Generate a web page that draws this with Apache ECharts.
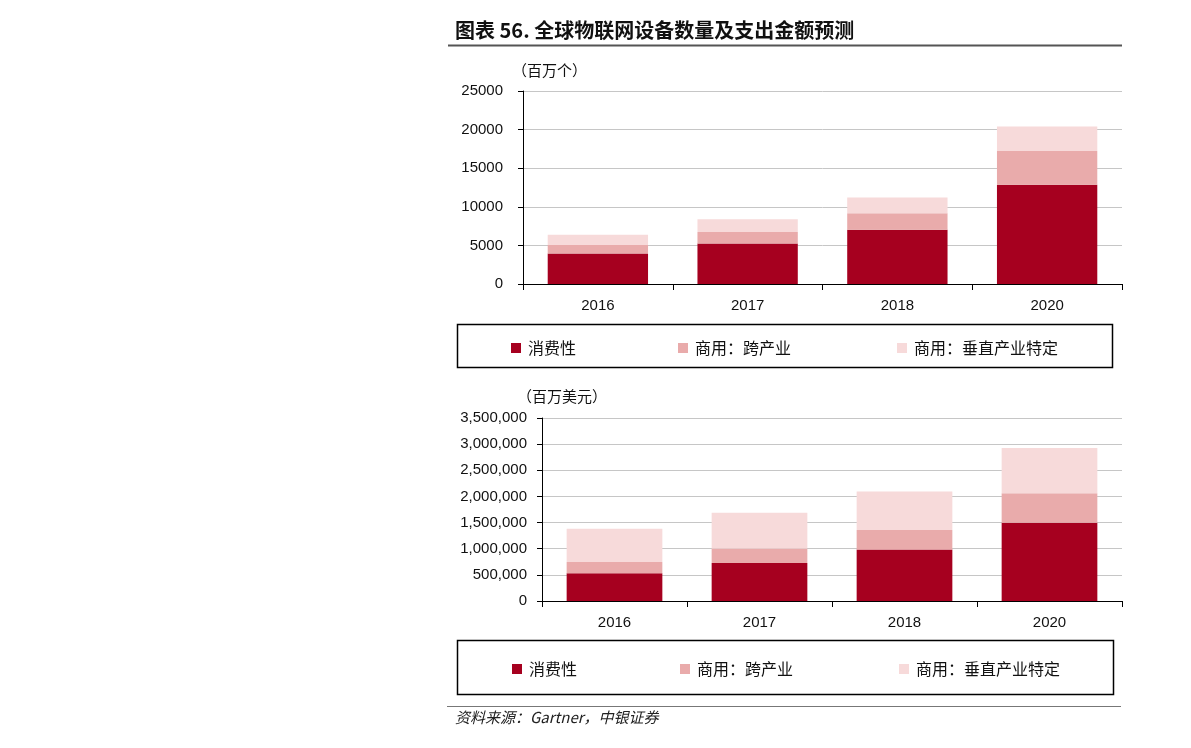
<!DOCTYPE html>
<html>
<head>
<meta charset="utf-8">
<script src="https://cdn.jsdelivr.net/npm/echarts@6/dist/echarts.min.js"></script>
<style>
  html, body { margin: 0; padding: 0; background: #fff; }
  #main { width: 1191px; height: 748px; }
</style>
</head>
<body>
<div id="main"></div>
<script>
var years = ["2016", "2017", "2018", "2020"];
var seriesNames = ["消费性", "商用：跨产业", "商用：垂直产业特定"];

// 设备数量（百万个）
var unitsConsumer = [3963, 5244, 7036, 12863];
var unitsCross = [1102, 1501, 2133, 4381];
var unitsVertical = [1317, 1635, 2028, 3171];

// 支出金额（百万美元）
var spendConsumer = [532515, 725696, 985348, 1494466];
var spendCross = [212069, 280059, 372989, 567659];
var spendVertical = [634921, 683817, 736543, 863662];

var colors = ["#a6001f", "#e9abab", "#f7dada"];
var cjk = "'Noto Sans CJK SC', sans-serif";
var num = "'Liberation Sans', Arial, sans-serif";

function fmt(v) {
  return String(v).replace(/\B(?=(\d{3})+(?!\d))/g, ",");
}

function xAxisFor(idx) {
  return {
    type: "category",
    gridIndex: idx,
    data: years,
    axisLine: { lineStyle: { color: "#000", width: 1 } },
    axisTick: { show: true, length: 6, lineStyle: { color: "#000" } },
    axisLabel: { color: "#111", fontFamily: num, fontSize: 15, margin: 14 }
  };
}

function yAxisFor(idx, max, interval, margin, formatter) {
  return {
    type: "value",
    gridIndex: idx,
    min: 0,
    max: max,
    interval: interval,
    axisLine: { show: true, lineStyle: { color: "#000", width: 1 } },
    axisTick: { show: true, length: 5, lineStyle: { color: "#000" } },
    splitLine: { lineStyle: { color: "#c6c6c6", width: 1 } },
    axisLabel: { color: "#111", fontFamily: num, fontSize: 15, margin: margin, formatter: formatter }
  };
}

function barSeries(name, data, idx, stack, color, gap) {
  return {
    name: name,
    type: "bar",
    stack: stack,
    xAxisIndex: idx,
    yAxisIndex: idx,
    data: data,
    barCategoryGap: gap,
    itemStyle: { color: color },
    animation: false
  };
}

function legendAt(name, left, top) {
  return {
    data: [name],
    left: left,
    top: top,
    icon: "rect",
    itemWidth: 10,
    itemHeight: 10,
    itemGap: 0,
    padding: 0,
    selectedMode: false,
    textStyle: { fontFamily: cjk, fontSize: 16, color: "#111", padding: [0, 0, 0, 2] }
  };
}

var option = {
  animation: false,
  color: colors,
  title: {
    text: "图表 56. 全球物联网设备数量及支出金额预测",
    left: 455,
    top: 20,
    padding: 0,
    textStyle: { fontFamily: cjk, fontSize: 20, fontWeight: "bold", color: "#111" }
  },
  grid: [
    { left: 523, right: 69, top: 91, height: 193, containLabel: false },
    { left: 542, right: 69, top: 418, height: 183, containLabel: false }
  ],
  xAxis: [xAxisFor(0), xAxisFor(1)],
  yAxis: [
    yAxisFor(0, 25000, 5000, 20, function (v) { return String(v); }),
    yAxisFor(1, 3500000, 500000, 15, fmt)
  ],
  legend: [
    legendAt(seriesNames[0], 511, 340),
    legendAt(seriesNames[1], 678, 340),
    legendAt(seriesNames[2], 897, 340),
    legendAt(seriesNames[0], 512, 661),
    legendAt(seriesNames[1], 680, 661),
    legendAt(seriesNames[2], 899, 661)
  ],
  series: [
    barSeries(seriesNames[0], unitsConsumer, 0, "units", colors[0], "33%"),
    barSeries(seriesNames[1], unitsCross, 0, "units", colors[1], "33%"),
    barSeries(seriesNames[2], unitsVertical, 0, "units", colors[2], "33%"),
    barSeries(seriesNames[0], spendConsumer, 1, "spend", colors[0], "34%"),
    barSeries(seriesNames[1], spendCross, 1, "spend", colors[1], "34%"),
    barSeries(seriesNames[2], spendVertical, 1, "spend", colors[2], "34%")
  ],
  graphic: [
    // 标题下划线
    { type: "line", shape: { x1: 448, y1: 45.5, x2: 1122, y2: 45.5 }, style: { stroke: "#555", lineWidth: 2 } },
    // 单位
    { type: "text", left: 512, top: 63, style: { text: "（百万个）", font: "15px " + cjk, fill: "#111" } },
    { type: "text", left: 517, top: 389, style: { text: "（百万美元）", font: "15px " + cjk, fill: "#111" } },
    // 图例框
    { type: "rect", shape: { x: 457.5, y: 324.5, width: 655, height: 43 }, style: { fill: "none", stroke: "#000", lineWidth: 1.5 }, z: -1 },
    { type: "rect", shape: { x: 457.5, y: 640.5, width: 656, height: 54 }, style: { fill: "none", stroke: "#000", lineWidth: 1.5 }, z: -1 },
    // 来源
    { type: "line", shape: { x1: 447, y1: 706.5, x2: 1121, y2: 706.5 }, style: { stroke: "#777", lineWidth: 1 } },
    { type: "text", left: 455, top: 710, style: { text: "资料来源：Gartner，中银证券", font: "italic 15px " + cjk, fill: "#222" } }
  ]
};

// ------------------------------ ECharts Config Start ------------------------------
var myChart = echarts.init(document.getElementById("main"));
myChart.setOption(option);
// ------------------------------ ECharts Config End ------------------------------
</script>
</body>
</html>
